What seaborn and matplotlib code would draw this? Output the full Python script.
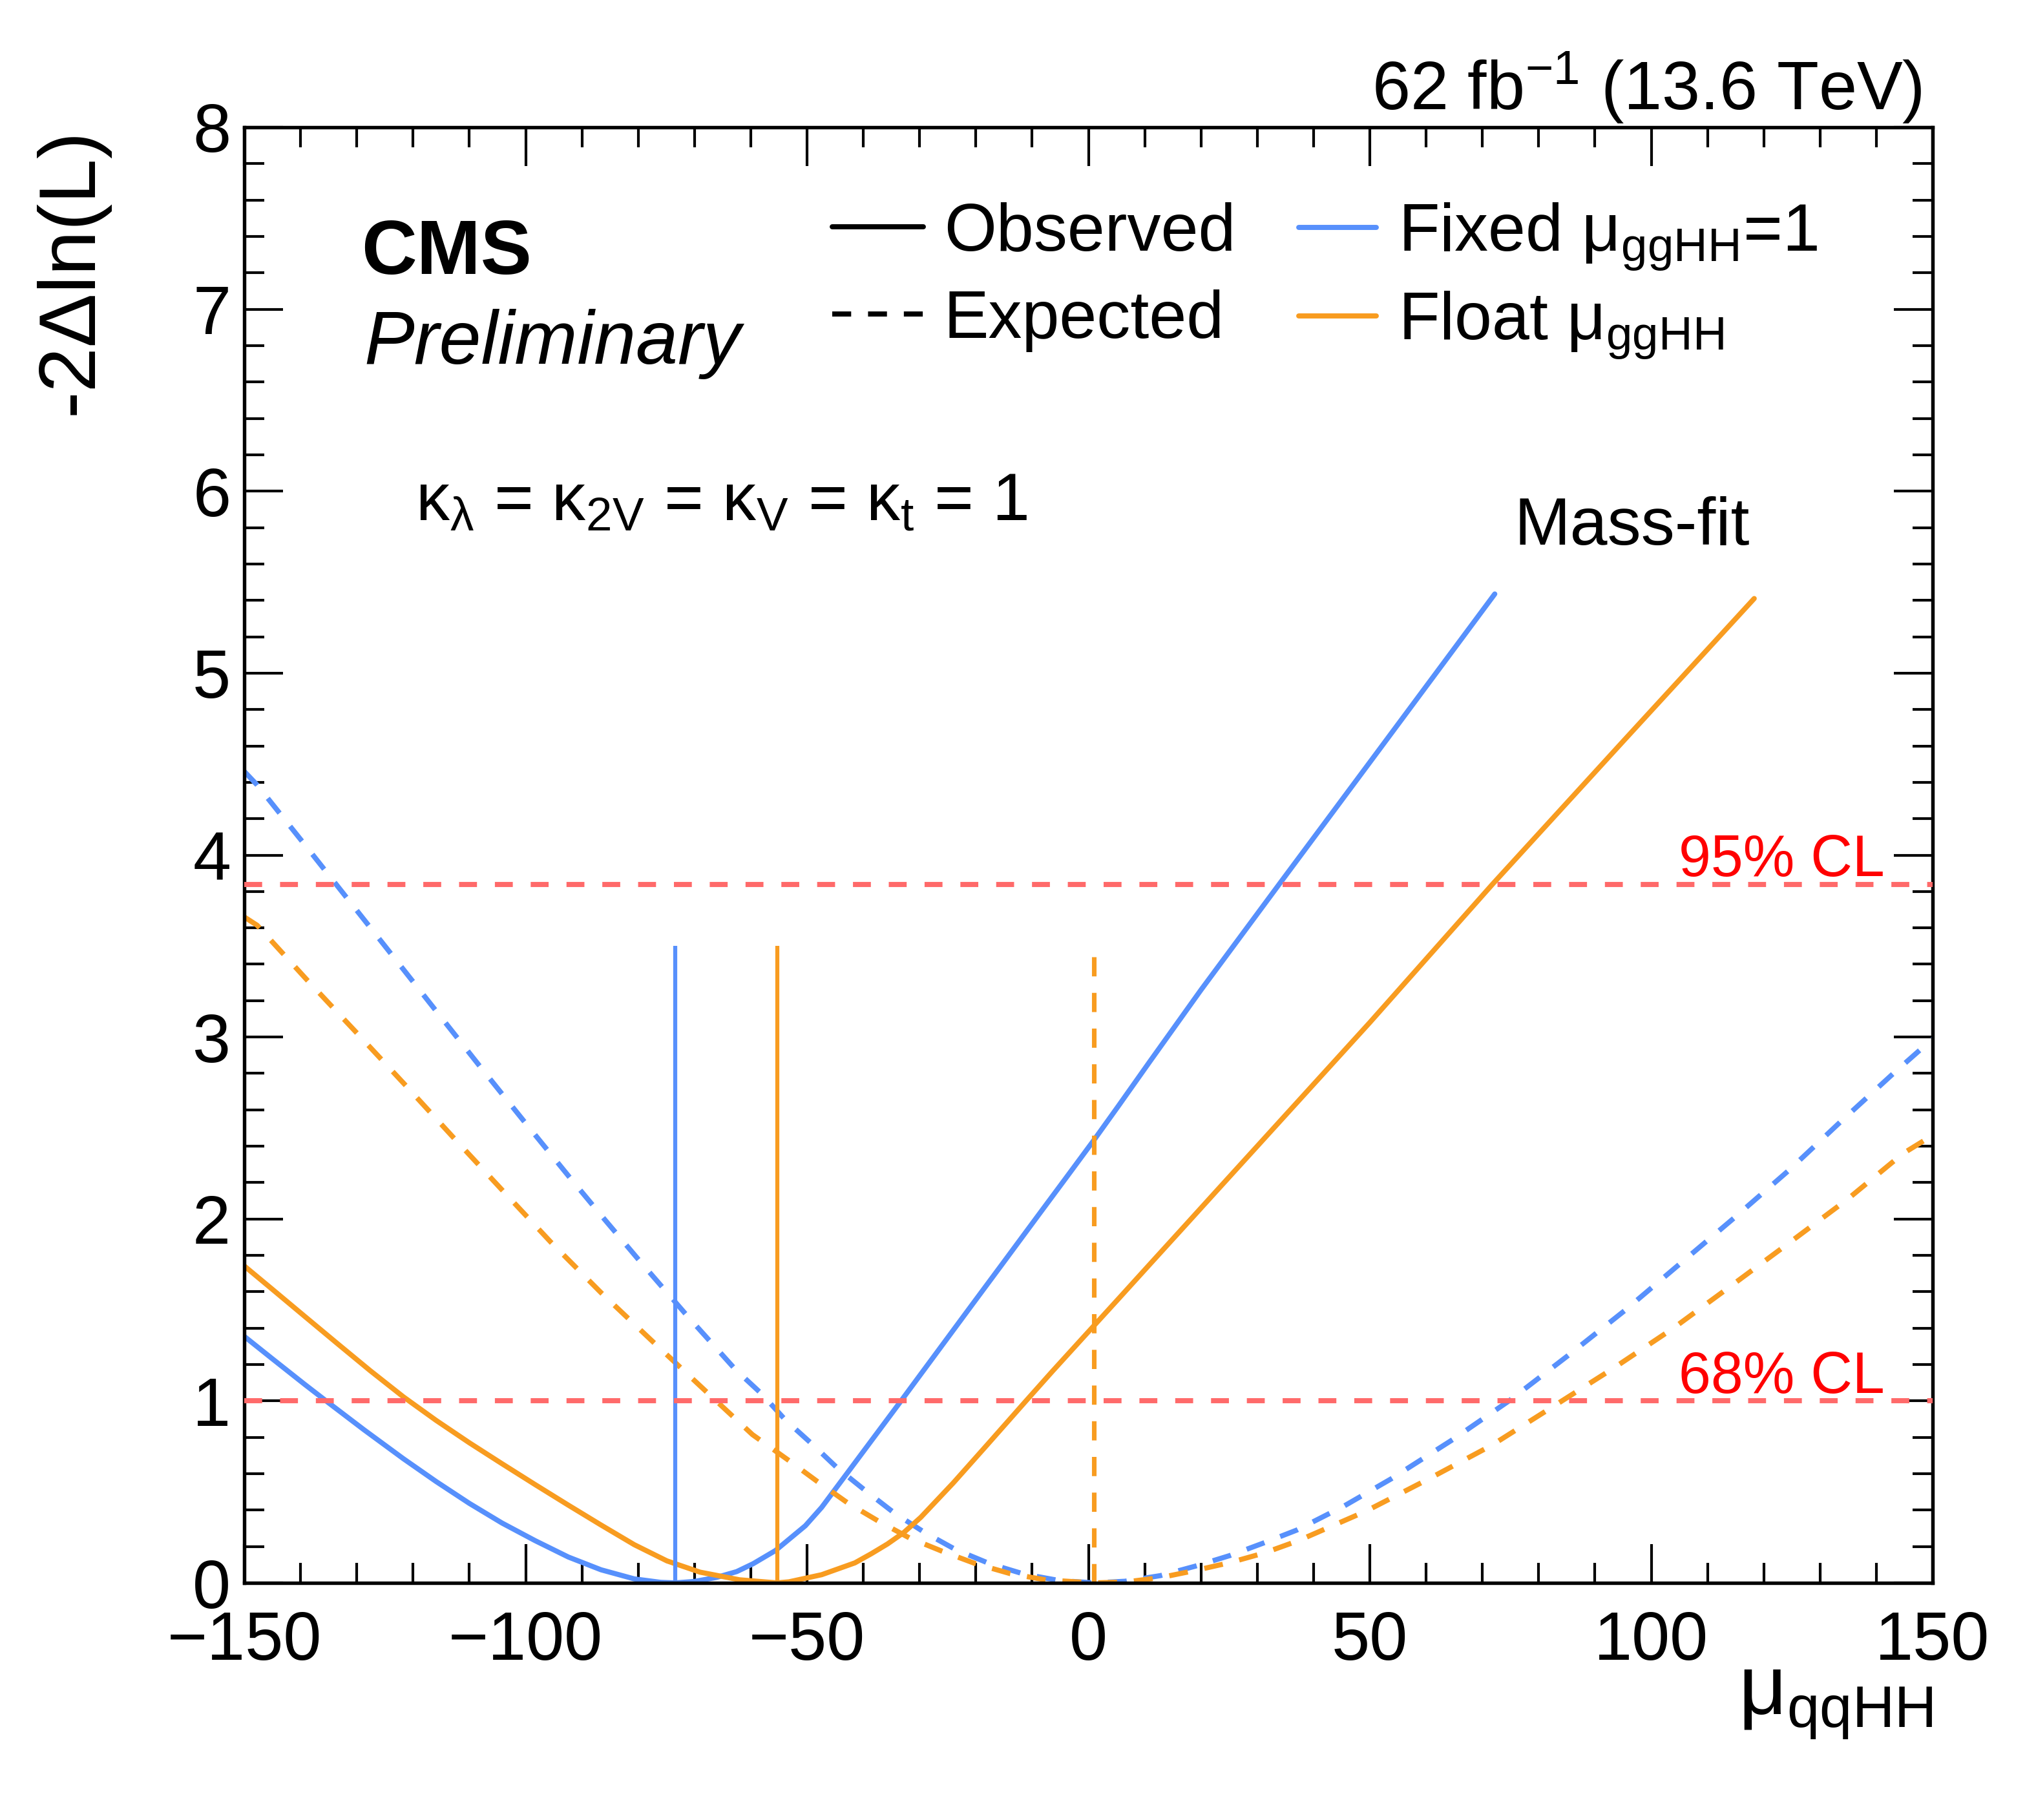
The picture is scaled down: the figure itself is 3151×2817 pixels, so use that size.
import matplotlib
matplotlib.use("Agg")
import numpy as np
import pandas as pd
import seaborn as sns
import matplotlib.pyplot as plt
from matplotlib.lines import Line2D
from matplotlib.ticker import MultipleLocator

# ---------------- data ----------------
obs_fixed_x = [-150, -145.1, -139.3, -135.2, -128.7, -121.7, -115.9, -110.0, -104.2, -98.3,
               -92.4, -86.6, -80.7, -76.0, -73.4, -70.0, -66.1, -62.5, -59.6, -55.6, -50.3,
               -47.4, -43.3, -38.6, -33.3, -26.9, -21.0, -15.2, -9.3, -3.5, 1.2, 5.3, 10.9,
               20.0, 33.9, 50.0, 72.2]
obs_fixed_y = [1.355, 1.234, 1.092, 0.994, 0.841, 0.682, 0.557, 0.437, 0.329, 0.232,
               0.142, 0.072, 0.022, 0.003, 0.0, 0.008, 0.030, 0.062, 0.105, 0.178, 0.314,
               0.415, 0.585, 0.780, 1.000, 1.268, 1.515, 1.757, 2.004, 2.246, 2.443, 2.620, 2.865,
               3.259, 3.840, 4.510, 5.435]

obs_float_x = [-150, -145.1, -139.3, -133.4, -127.6, -121.7, -115.9, -110.0, -104.2, -98.3,
               -92.4, -86.6, -80.7, -74.9, -69.0, -62.0, -55.3, -53.2, -47.4, -41.5, -38.6,
               -35.7, -32.8, -29.8, -24.0, -18.1, -11.1, -6.4, -0.6, 5.3, 11.2, 17.0, 22.9,
               28.7, 32.7, 50.0, 71.8, 95.0, 118.3]
obs_float_y = [1.742, 1.616, 1.466, 1.314, 1.166, 1.022, 0.893, 0.770, 0.655, 0.540,
               0.427, 0.318, 0.210, 0.121, 0.059, 0.017, 0.0, 0.006, 0.045, 0.110, 0.160,
               0.214, 0.277, 0.360, 0.550, 0.755, 1.000, 1.163, 1.360, 1.560, 1.761, 1.958, 2.159,
               2.356, 2.492, 3.080, 3.840, 4.625, 5.410]

exp_fixed_x = [-150, -147.7, -139.7, -131.8, -123.9, -116.0, -108.1, -100.1, -92.0, -85.9,
               -79.7, -71.3, -62.7, -58.1, -53.8, -49.1, -44.6, -39.5, -34.4, -29.1, -23.6,
               -17.5, -11.4, -5.2, 1.0, 6.5, 12.8, 19.0, 25.1, 31.1, 37.0, 45.4, 53.8, 64.7,
               74.9, 85.2, 95.3, 105.0, 114.7, 124.4, 133.7, 143.1, 150]
exp_fixed_y = [4.46, 4.385, 4.075, 3.766, 3.457, 3.147, 2.838, 2.530, 2.222, 1.995,
               1.768, 1.468, 1.172, 1.040, 0.894, 0.763, 0.631, 0.504, 0.382, 0.277, 0.183,
               0.105, 0.048, 0.013, 0.0, 0.009, 0.040, 0.092, 0.150, 0.219, 0.290, 0.422, 0.572, 0.787,
               1.004, 1.249, 1.497, 1.751, 2.005, 2.266, 2.536, 2.802, 2.99]

exp_float_x = [-150, -147.7, -139.0, -130.2, -121.5, -112.9, -104.2, -95.5, -86.6, -77.2,
               -67.9, -59.7, -53.2, -48.2, -42.8, -37.4, -31.8, -26.0, -20.0, -13.9, -7.5,
               1.0, 6.6, 12.8, 19.1, 25.2, 31.3, 37.3, 49.3, 60.5, 71.7, 82.6, 93.3, 103.8,
               114.3, 124.7, 134.9, 144.7, 150]
exp_float_y = [3.66, 3.614, 3.319, 3.029, 2.74, 2.45, 2.16, 1.872, 1.595, 1.320,
               1.051, 0.815, 0.672, 0.558, 0.440, 0.341, 0.247, 0.174, 0.105, 0.051, 0.016,
               0.0, 0.005, 0.029, 0.069, 0.112, 0.165, 0.232, 0.394, 0.572, 0.757, 0.970, 1.180, 1.397,
               1.635, 1.873, 2.109, 2.359, 2.46]

# best-fit markers (vertical lines)
bestfit_obs_x = [-73.4, -55.3]          # fixed, float
bestfit_obs_top = 3.5
bestfit_exp_x = [1.0]
bestfit_exp_top = 3.45

cl_levels = [1.0, 3.84]
cl_labels = ["68% CL", "95% CL"]

# ---------------- styling ----------------
sns.set_theme(style="ticks")
plt.rcParams["font.family"] = ["Liberation Sans", "DejaVu Sans"]
plt.rcParams["mathtext.fontset"] = "custom"
plt.rcParams["mathtext.rm"] = "Liberation Sans"
plt.rcParams["mathtext.it"] = "Liberation Sans:italic"
plt.rcParams["mathtext.bf"] = "Liberation Sans:bold"
plt.rcParams["axes.unicode_minus"] = True
for k in ["text.color", "axes.labelcolor", "xtick.color", "ytick.color", "axes.edgecolor"]:
    plt.rcParams[k] = "black"

BLUE = "#5790fc"
ORANGE = "#f89c20"
CLRED = "#ff6a6a"
LW = 1.9
DASH = (3.7, 3.3)

frames = []
for sc, kind, xs, ys in [("Fixed", "Observed", obs_fixed_x, obs_fixed_y),
                         ("Float", "Observed", obs_float_x, obs_float_y),
                         ("Fixed", "Expected", exp_fixed_x, exp_fixed_y),
                         ("Float", "Expected", exp_float_x, exp_float_y)]:
    frames.append(pd.DataFrame({"mu": xs, "nll": ys, "scenario": sc, "kind": kind}))
df = pd.concat(frames, ignore_index=True)

W, H, DPI = 3151, 2817, 300
fig = plt.figure(figsize=(W / DPI, H / DPI), dpi=DPI)
L, R, B, T = 378 / W, 2991 / W, 1 - 2450 / H, 1 - 197 / H
ax = fig.add_axes([L, B, R - L, T - B])

sns.lineplot(data=df, x="mu", y="nll", hue="scenario", style="kind",
             palette={"Fixed": BLUE, "Float": ORANGE},
             dashes={"Observed": "", "Expected": DASH},
             estimator=None, sort=True, linewidth=LW, legend=False, ax=ax, zorder=2)

# vertical best-fit lines
ax.vlines(bestfit_obs_x, 0, bestfit_obs_top, colors=[BLUE, ORANGE], linewidth=1.5, zorder=2)
ax.vlines(bestfit_exp_x, 0, bestfit_exp_top, colors=[ORANGE], linewidth=1.7,
          linestyles=[(0, (4.2, 3.6))], zorder=2.1)

# CL lines + labels
for lev, lab in zip(cl_levels, cl_labels):
    ax.axhline(lev, color=CLRED, linewidth=1.9, dashes=(3.5, 3.5), zorder=3)
    ax.text(141.5, lev + 0.045, lab, color="#ff0000", fontsize=21.5,
            ha="right", va="baseline", zorder=4)

ax.set_xlim(-150, 150)
ax.set_ylim(0, 8)
ax.xaxis.set_major_locator(MultipleLocator(50))
ax.xaxis.set_minor_locator(MultipleLocator(10))
ax.yaxis.set_major_locator(MultipleLocator(1))
ax.yaxis.set_minor_locator(MultipleLocator(0.2))
ax.tick_params(which="both", direction="in", top=True, right=True, colors="black",
               width=1.0)
ax.tick_params(which="major", length=14.5)
ax.tick_params(which="minor", length=7.5)
ax.tick_params(axis="x", which="major", labelsize=25.5, pad=10)
ax.tick_params(axis="y", which="major", labelsize=25.5, pad=5)
for s in ax.spines.values():
    s.set_linewidth(1.3)
    s.set_color("black")

ax.set_xlabel(r"μ$_{\mathrm{qqHH}}$", fontsize=31, loc="right")
ax.xaxis.set_label_coords(1.0, -0.055)
ax.set_ylabel("-2Δln(L)", fontsize=30, loc="top")
ax.yaxis.set_label_coords(-0.080, 1.0)

# legends (two columns)
h1 = [Line2D([], [], color="black", lw=LW),
      Line2D([], [], color="black", lw=LW, dashes=DASH)]
leg1 = ax.legend(h1, ["Observed", "Expected"], loc="upper left",
                 bbox_to_anchor=(1288 / W, 1 - 312 / H), bbox_transform=fig.transFigure,
                 frameon=False, fontsize=25, handlelength=1.35, handletextpad=0.31,
                 labelspacing=0.37, borderpad=0, borderaxespad=0)
ax.add_artist(leg1)
h2 = [Line2D([], [], color=BLUE, lw=LW), Line2D([], [], color=ORANGE, lw=LW)]
ax.legend(h2, [r"Fixed μ$_{\mathrm{ggHH}}$=1", r"Float μ$_{\mathrm{ggHH}}$"], loc="upper left",
          bbox_to_anchor=(2010 / W, 1 - 312 / H), bbox_transform=fig.transFigure,
          frameon=False, fontsize=25, handlelength=1.15, handletextpad=0.33,
          labelspacing=0.26, borderpad=0, borderaxespad=0)

# annotations
fig.text(559 / W, 1 - 424 / H, "CMS", fontsize=28.5, fontweight="bold", ha="left", va="baseline")
fig.text(563 / W, 1 - 563 / H, "Preliminary", fontsize=28, fontstyle="italic", ha="left", va="baseline")
fig.text(643 / W, 1 - 805 / H,
         r"κ$_{\mathrm{\lambda}}$ = κ$_{\mathrm{2V}}$ = κ$_{\mathrm{V}}$ = κ$_{\mathrm{t}}$ = 1",
         fontsize=25, ha="left", va="baseline")
fig.text(2343 / W, 1 - 843 / H, "Mass-fit", fontsize=25, ha="left", va="baseline")
fig.text(2975 / W, 1 - 170 / H, r"62 fb$^{\mathrm{-1}}$ (13.6 TeV)", fontsize=25.5,
         ha="right", va="baseline")

fig.savefig("out.png", dpi=DPI)
